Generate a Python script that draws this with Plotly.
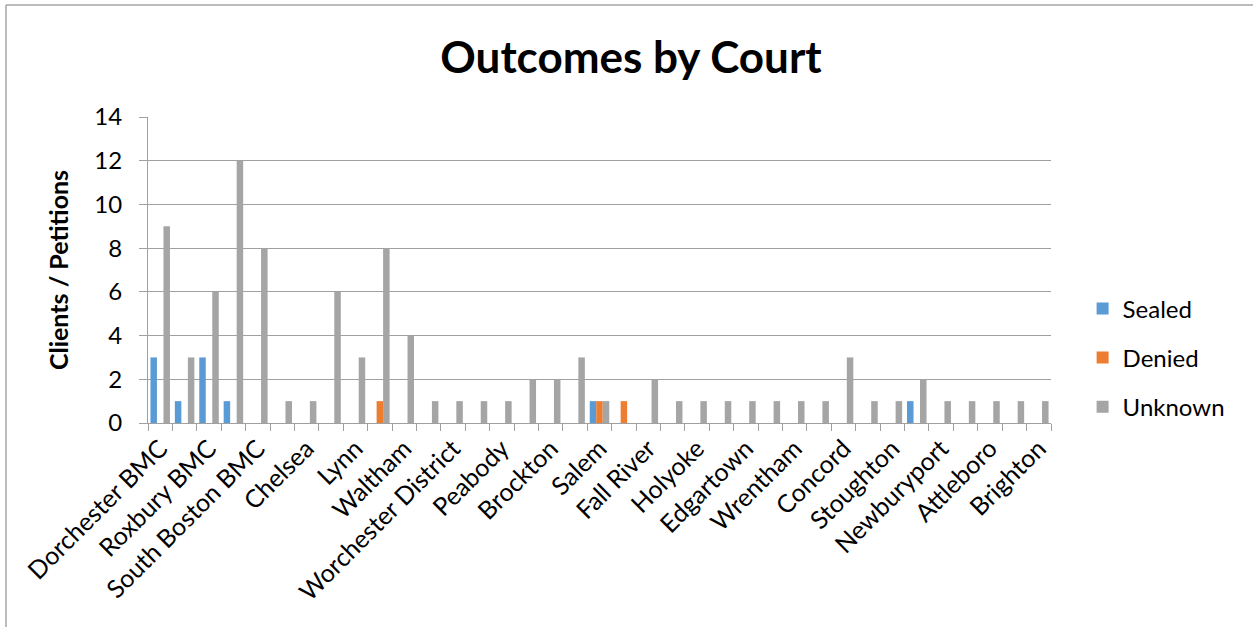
import plotly.graph_objects as go

courts = [
    "Dorchester BMC", "West Roxbury BMC", "Roxbury BMC", "East Boston BMC",
    "South Boston BMC", "Cambridge", "Chelsea", "Malden", "Lynn", "Newton",
    "Waltham", "Lowell", "Worchester District", "Quincy", "Peabody", "Dedham",
    "Brockton", "Lawrence", "Salem", "New Bedford", "Fall River", "Springfield",
    "Holyoke", "Plymouth", "Edgartown", "Framingham", "Wrentham", "Somerville",
    "Concord", "Taunton", "Stoughton", "Haverhill", "Newburyport", "Gloucester",
    "Attleboro", "Woburn", "Brighton",
]
sealed = [3, 1, 3, 1, 0, 0, 0, 0, 0, 0, 0, 0, 0, 0, 0, 0, 0, 0, 1, 0, 0, 0,
          0, 0, 0, 0, 0, 0, 0, 0, 0, 1, 0, 0, 0, 0, 0]
denied = [0, 0, 0, 0, 0, 0, 0, 0, 0, 1, 0, 0, 0, 0, 0, 0, 0, 0, 1, 1, 0, 0,
          0, 0, 0, 0, 0, 0, 0, 0, 0, 0, 0, 0, 0, 0, 0]
unknown = [9, 3, 6, 12, 8, 1, 1, 6, 3, 8, 4, 1, 1, 1, 1, 2, 2, 3, 1, 0, 2, 1,
           1, 1, 1, 1, 1, 1, 3, 1, 1, 2, 1, 1, 1, 1, 1]
tick_text = [c if i % 2 == 0 else "" for i, c in enumerate(courts)]

FONT = "Lato"
fig = go.Figure()
for name, vals, col in [("Sealed", sealed, "#5B9BD5"),
                        ("Denied", denied, "#ED7D31"),
                        ("Unknown", unknown, "#A5A5A5")]:
    fig.add_trace(go.Bar(x=courts, y=vals, name=name, marker_color=col,
                         marker_line_width=0, legendgroup=name))

GRID = "#A0A0A0"
fig.update_layout(
    width=1253, height=627,
    margin=dict(l=148, r=202, t=117, b=204),
    paper_bgcolor="white", plot_bgcolor="white",
    barmode="group", bargap=0.2, bargroupgap=0,
    font=dict(family=FONT, color="black", size=24),
    title=dict(text="<b>Outcomes by Court</b>", x=631 / 1253, xref="container",
               xanchor="center", y=1 - 58 / 627, yref="container", yanchor="middle",
               font=dict(family=FONT, size=44, color="black")),
    legend=dict(x=1.035, xanchor="left", y=0.213, yanchor="middle",
                font=dict(family=FONT, size=24), traceorder="grouped",
                tracegroupgap=15, bgcolor="rgba(0,0,0,0)"),
    shapes=[
        dict(type="line", xref="paper", yref="paper", x0=(6 - 148) / 903, x1=(1253 - 148) / 903,
             y0=(423 - 5) / 306, y1=(423 - 5) / 306, line=dict(color="#A6A6A6", width=1.5)),
        dict(type="line", xref="paper", yref="paper", x0=(6 - 148) / 903, x1=(6 - 148) / 903,
             y0=(423 - 5) / 306, y1=(423 - 640) / 306, line=dict(color="#A6A6A6", width=1.5)),
    ],
)
fig.update_xaxes(
    type="category", tickmode="array", tickvals=courts, ticktext=tick_text,
    tickson="boundaries", ticks="outside", ticklen=7, tickcolor=GRID, tickwidth=1,
    showline=True, linecolor=GRID, linewidth=1, showgrid=False,
    tickangle=-45, tickfont=dict(family=FONT, size=25),
)
fig.update_yaxes(
    range=[0, 14], dtick=2, tick0=0, showgrid=True, gridcolor=GRID, gridwidth=1,
    ticks="outside", ticklen=8, tickcolor=GRID, showline=True, linecolor=GRID,
    linewidth=1, zeroline=False, tickfont=dict(family=FONT, size=24),
    ticklabelstandoff=12,
    title=dict(text="<b>Clients / Petitions</b>", font=dict(family=FONT, size=25),
               standoff=18),
)
fig.write_html("out.html")
